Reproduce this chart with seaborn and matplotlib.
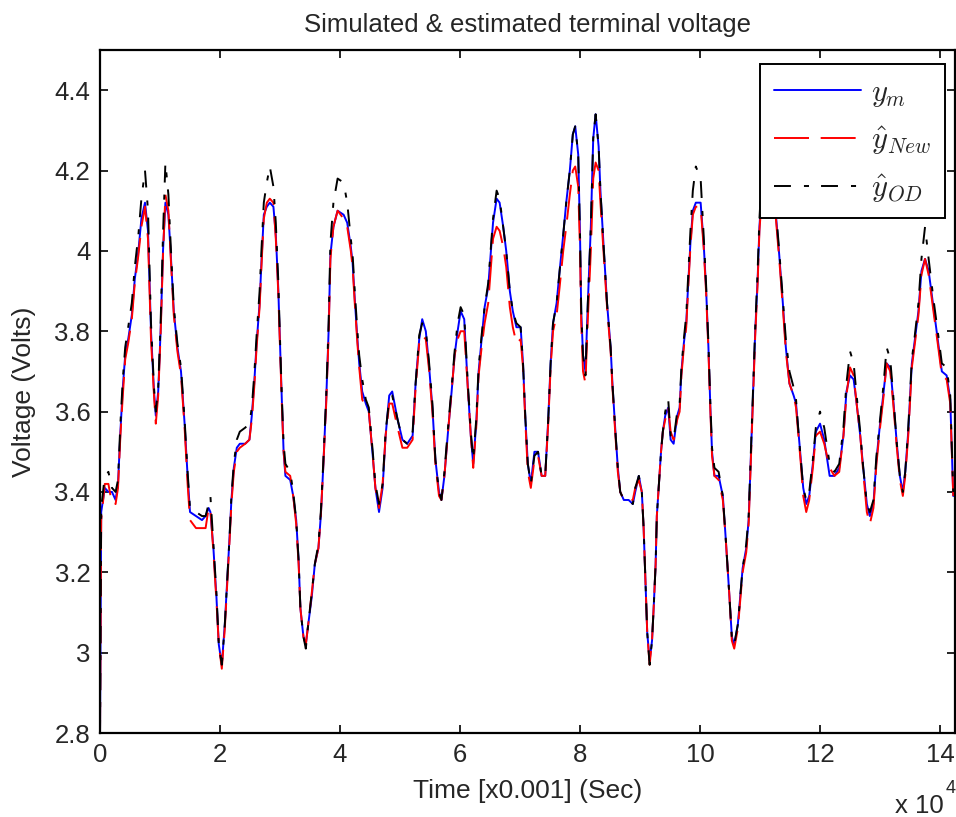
import matplotlib
matplotlib.use("Agg")
import matplotlib.pyplot as plt
import seaborn as sns
import pandas as pd

# time axis in units of 1e4 samples, and the three voltage traces
t = [0.00, 0.02, 0.08, 0.14, 0.20, 0.26, 0.30, 0.34, 0.38, 0.42, 0.47, 0.53, 0.58, 0.64, 0.69, 0.75,
     0.80, 0.85, 0.90, 0.93, 0.97, 1.01, 1.05, 1.09, 1.14, 1.18, 1.23, 1.29, 1.35, 1.41, 1.46, 1.50,
     1.60, 1.70, 1.76, 1.81, 1.84, 1.89, 1.94, 1.98, 2.03, 2.08, 2.12, 2.16, 2.19, 2.23, 2.28, 2.33,
     2.42, 2.49, 2.53, 2.57, 2.61, 2.66, 2.69, 2.73, 2.78, 2.83, 2.89, 2.93, 2.97, 3.00, 3.03, 3.06,
     3.09, 3.17, 3.22, 3.27, 3.31, 3.34, 3.39, 3.43, 3.47, 3.53, 3.58, 3.64, 3.68, 3.72, 3.77, 3.81,
     3.84, 3.89, 3.96, 4.06, 4.12, 4.18, 4.21, 4.25, 4.29, 4.32, 4.37, 4.43, 4.48, 4.54, 4.59, 4.65,
     4.71, 4.76, 4.82, 4.87, 4.96, 5.04, 5.12, 5.21, 5.26, 5.32, 5.37, 5.43, 5.48, 5.54, 5.59, 5.65,
     5.69, 5.74, 5.80, 5.86, 5.91, 5.96, 6.01, 6.07, 6.13, 6.18, 6.22, 6.27, 6.31, 6.36, 6.41, 6.47,
     6.51, 6.55, 6.61, 6.66, 6.72, 6.77, 6.83, 6.88, 6.94, 7.01, 7.05, 7.09, 7.13, 7.18, 7.24, 7.30,
     7.36, 7.42, 7.47, 7.51, 7.55, 7.61, 7.66, 7.72, 7.77, 7.83, 7.88, 7.92, 7.97, 8.00, 8.02, 8.05,
     8.09, 8.13, 8.18, 8.22, 8.26, 8.31, 8.34, 8.39, 8.45, 8.51, 8.54, 8.59, 8.63, 8.67, 8.73, 8.81,
     8.88, 8.92, 8.98, 9.03, 9.06, 9.09, 9.12, 9.16, 9.20, 9.23, 9.26, 9.28, 9.31, 9.35, 9.38, 9.42,
     9.47, 9.51, 9.56, 9.62, 9.66, 9.69, 9.73, 9.77, 9.80, 9.84, 9.88, 9.93, 10.01, 10.06, 10.10, 10.14,
     10.17, 10.20, 10.24, 10.31, 10.38, 10.43, 10.49, 10.53, 10.57, 10.63, 10.67, 10.71, 10.77, 10.81, 10.84, 10.88,
     10.92, 10.96, 10.99, 11.05, 11.15, 11.22, 11.27, 11.32, 11.38, 11.43, 11.49, 11.56, 11.60, 11.64, 11.68, 11.72,
     11.77, 11.82, 11.88, 11.93, 12.00, 12.07, 12.16, 12.24, 12.32, 12.39, 12.44, 12.50, 12.56, 12.61, 12.67, 12.72,
     12.78, 12.83, 12.89, 12.94, 13.00, 13.06, 13.11, 13.17, 13.22, 13.28, 13.33, 13.38, 13.42, 13.47, 13.53, 13.58,
     13.64, 13.69, 13.75, 13.81, 13.89, 13.97, 14.03, 14.11, 14.17, 14.22]

y_m = [2.79, 3.35, 3.41, 3.40, 3.40, 3.38, 3.42, 3.55, 3.66, 3.74, 3.78, 3.84, 3.93, 4.00, 4.08, 4.12,
       4.05, 3.80, 3.65, 3.59, 3.65, 3.80, 4.00, 4.12, 4.09, 3.99, 3.85, 3.76, 3.70, 3.57, 3.44, 3.35,
       3.34, 3.33, 3.34, 3.36, 3.35, 3.26, 3.14, 3.02, 2.97, 3.07, 3.18, 3.29, 3.38, 3.46, 3.51, 3.52,
       3.52, 3.53, 3.59, 3.67, 3.77, 3.87, 3.97, 4.09, 4.11, 4.12, 4.11, 4.04, 3.91, 3.77, 3.63, 3.50,
       3.44, 3.43, 3.39, 3.33, 3.23, 3.11, 3.04, 3.02, 3.07, 3.14, 3.22, 3.26, 3.34, 3.46, 3.63, 3.80,
       3.99, 4.06, 4.10, 4.09, 4.07, 4.01, 3.97, 3.87, 3.78, 3.72, 3.65, 3.62, 3.60, 3.50, 3.41, 3.35,
       3.41, 3.54, 3.64, 3.65, 3.58, 3.53, 3.52, 3.54, 3.67, 3.78, 3.83, 3.80, 3.72, 3.61, 3.48, 3.40,
       3.38, 3.44, 3.55, 3.65, 3.74, 3.80, 3.85, 3.83, 3.66, 3.54, 3.47, 3.57, 3.70, 3.78, 3.86, 3.91,
       3.99, 4.07, 4.13, 4.12, 4.06, 4.00, 3.90, 3.85, 3.81, 3.81, 3.72, 3.58, 3.47, 3.42, 3.50, 3.50,
       3.44, 3.44, 3.58, 3.72, 3.82, 3.87, 3.95, 4.04, 4.12, 4.20, 4.29, 4.31, 4.24, 4.04, 3.85, 3.74,
       3.70, 3.87, 4.06, 4.28, 4.34, 4.26, 4.15, 4.02, 3.87, 3.76, 3.67, 3.55, 3.46, 3.40, 3.38, 3.38,
       3.37, 3.40, 3.44, 3.40, 3.31, 3.18, 3.05, 2.98, 3.03, 3.12, 3.22, 3.34, 3.41, 3.50, 3.55, 3.59,
       3.61, 3.53, 3.52, 3.59, 3.61, 3.70, 3.77, 3.82, 3.91, 4.02, 4.10, 4.12, 4.12, 4.02, 3.91, 3.76,
       3.62, 3.50, 3.44, 3.44, 3.39, 3.28, 3.14, 3.04, 3.02, 3.07, 3.14, 3.21, 3.26, 3.33, 3.46, 3.64,
       3.80, 3.93, 4.06, 4.20, 4.25, 4.18, 4.08, 3.99, 3.87, 3.76, 3.67, 3.64, 3.62, 3.55, 3.48, 3.41,
       3.37, 3.39, 3.47, 3.55, 3.57, 3.53, 3.44, 3.44, 3.46, 3.54, 3.65, 3.69, 3.68, 3.62, 3.54, 3.46,
       3.37, 3.34, 3.37, 3.48, 3.57, 3.65, 3.72, 3.71, 3.63, 3.52, 3.44, 3.40, 3.45, 3.55, 3.72, 3.78,
       3.85, 3.95, 3.98, 3.95, 3.86, 3.77, 3.70, 3.69, 3.63, 3.39]

y_new = [2.79, 3.33, 3.42, 3.42, 3.37, 3.37, 3.41, 3.54, 3.64, 3.73, 3.77, 3.83, 3.92, 3.99, 4.06, 4.11,
         4.03, 3.78, 3.64, 3.57, 3.64, 3.79, 3.99, 4.14, 4.10, 3.98, 3.84, 3.75, 3.69, 3.56, 3.42, 3.33,
         3.31, 3.31, 3.31, 3.36, 3.36, 3.25, 3.13, 3.02, 2.96, 3.06, 3.17, 3.28, 3.37, 3.45, 3.50, 3.51,
         3.52, 3.53, 3.58, 3.66, 3.76, 3.86, 3.96, 4.08, 4.12, 4.13, 4.12, 4.03, 3.90, 3.76, 3.62, 3.50,
         3.45, 3.44, 3.39, 3.32, 3.22, 3.11, 3.04, 3.02, 3.07, 3.15, 3.22, 3.26, 3.34, 3.46, 3.62, 3.79,
         3.98, 4.06, 4.10, 4.08, 4.06, 4.00, 3.96, 3.86, 3.77, 3.71, 3.63, 3.61, 3.60, 3.50, 3.41, 3.36,
         3.42, 3.54, 3.62, 3.62, 3.56, 3.51, 3.51, 3.53, 3.66, 3.77, 3.79, 3.78, 3.71, 3.60, 3.47, 3.39,
         3.38, 3.44, 3.55, 3.65, 3.74, 3.78, 3.80, 3.80, 3.66, 3.54, 3.46, 3.56, 3.69, 3.76, 3.82, 3.87,
         3.95, 4.03, 4.06, 4.05, 4.01, 3.96, 3.86, 3.81, 3.77, 3.78, 3.71, 3.57, 3.45, 3.41, 3.48, 3.49,
         3.44, 3.44, 3.57, 3.71, 3.80, 3.84, 3.91, 4.00, 4.06, 4.14, 4.20, 4.21, 4.16, 4.00, 3.82, 3.70,
         3.67, 3.83, 4.00, 4.18, 4.22, 4.20, 4.12, 4.00, 3.86, 3.75, 3.66, 3.54, 3.45, 3.40, 3.38, 3.38,
         3.38, 3.41, 3.43, 3.40, 3.31, 3.18, 3.05, 2.97, 3.03, 3.12, 3.22, 3.34, 3.41, 3.50, 3.55, 3.58,
         3.61, 3.55, 3.53, 3.58, 3.60, 3.69, 3.76, 3.81, 3.90, 4.01, 4.09, 4.11, 4.11, 4.01, 3.90, 3.75,
         3.61, 3.49, 3.44, 3.43, 3.38, 3.28, 3.14, 3.03, 3.01, 3.06, 3.13, 3.20, 3.25, 3.32, 3.45, 3.63,
         3.79, 3.92, 4.05, 4.18, 4.22, 4.16, 4.07, 3.98, 3.86, 3.75, 3.67, 3.64, 3.61, 3.54, 3.47, 3.39,
         3.35, 3.38, 3.46, 3.54, 3.55, 3.52, 3.46, 3.44, 3.45, 3.54, 3.64, 3.71, 3.69, 3.62, 3.54, 3.45,
         3.35, 3.32, 3.36, 3.47, 3.56, 3.64, 3.72, 3.70, 3.62, 3.51, 3.43, 3.39, 3.44, 3.54, 3.71, 3.77,
         3.84, 3.94, 3.98, 3.94, 3.85, 3.76, 3.69, 3.68, 3.62, 3.39]

y_od = [2.79, 3.36, 3.44, 3.45, 3.41, 3.40, 3.43, 3.57, 3.68, 3.76, 3.81, 3.87, 3.96, 4.04, 4.13, 4.20,
        4.10, 3.82, 3.66, 3.60, 3.66, 3.82, 4.04, 4.22, 4.14, 4.01, 3.86, 3.77, 3.71, 3.58, 3.45, 3.36,
        3.35, 3.34, 3.34, 3.37, 3.39, 3.27, 3.15, 3.02, 2.97, 3.07, 3.18, 3.29, 3.39, 3.47, 3.53, 3.55,
        3.56, 3.57, 3.61, 3.69, 3.79, 3.90, 4.00, 4.12, 4.17, 4.21, 4.16, 4.07, 3.93, 3.78, 3.64, 3.52,
        3.47, 3.45, 3.40, 3.33, 3.23, 3.11, 3.04, 3.01, 3.07, 3.15, 3.22, 3.27, 3.35, 3.47, 3.64, 3.82,
        4.02, 4.12, 4.18, 4.17, 4.12, 4.03, 3.99, 3.89, 3.80, 3.74, 3.68, 3.63, 3.61, 3.51, 3.42, 3.37,
        3.42, 3.55, 3.63, 3.64, 3.58, 3.53, 3.52, 3.55, 3.67, 3.79, 3.82, 3.80, 3.73, 3.62, 3.48, 3.40,
        3.38, 3.45, 3.56, 3.66, 3.75, 3.82, 3.86, 3.84, 3.67, 3.55, 3.48, 3.58, 3.71, 3.79, 3.86, 3.92,
        4.00, 4.08, 4.15, 4.13, 4.06, 4.00, 3.90, 3.85, 3.82, 3.81, 3.72, 3.58, 3.47, 3.42, 3.49, 3.50,
        3.44, 3.44, 3.58, 3.72, 3.82, 3.87, 3.95, 4.04, 4.12, 4.20, 4.29, 4.31, 4.24, 4.04, 3.85, 3.74,
        3.69, 3.87, 4.06, 4.28, 4.34, 4.26, 4.15, 4.02, 3.87, 3.76, 3.67, 3.55, 3.46, 3.40, 3.38, 3.38,
        3.37, 3.41, 3.44, 3.40, 3.31, 3.18, 3.05, 2.97, 3.03, 3.12, 3.22, 3.34, 3.41, 3.50, 3.55, 3.60,
        3.63, 3.54, 3.53, 3.60, 3.62, 3.71, 3.78, 3.84, 3.93, 4.05, 4.15, 4.21, 4.18, 4.04, 3.92, 3.77,
        3.63, 3.51, 3.46, 3.45, 3.39, 3.28, 3.14, 3.04, 3.02, 3.07, 3.14, 3.21, 3.27, 3.34, 3.47, 3.65,
        3.81, 3.95, 4.08, 4.24, 4.30, 4.20, 4.09, 4.00, 3.88, 3.78, 3.70, 3.66, 3.63, 3.55, 3.48, 3.41,
        3.38, 3.40, 3.48, 3.56, 3.60, 3.56, 3.47, 3.45, 3.47, 3.56, 3.67, 3.75, 3.72, 3.64, 3.55, 3.46,
        3.37, 3.35, 3.38, 3.49, 3.58, 3.67, 3.76, 3.73, 3.64, 3.52, 3.44, 3.40, 3.45, 3.56, 3.73, 3.79,
        3.87, 3.98, 4.06, 3.98, 3.88, 3.79, 3.72, 3.71, 3.64, 3.40]

series_labels = [r"$y_m$", r"$\hat{y}_{New}$", r"$\hat{y}_{OD}$"]
x_ticks = [0, 2, 4, 6, 8, 10, 12, 14]
y_ticks = [2.8, 3.0, 3.2, 3.4, 3.6, 3.8, 4.0, 4.2, 4.4]
y_tick_labels = ["2.8", "3", "3.2", "3.4", "3.6", "3.8", "4", "4.2", "4.4"]

sns.set_style("ticks")
plt.rcParams["font.family"] = ["Liberation Sans", "DejaVu Sans"]
plt.rcParams["mathtext.fontset"] = "cm"

df = pd.DataFrame({"t": t, "ym": y_m, "ynew": y_new, "yod": y_od})

fig = plt.figure(figsize=(9.56, 8.17), dpi=100)
ax = fig.add_axes([0.1046, 0.1028, 0.8944, 0.836])

lw = 1.4
sns.lineplot(data=df, x="t", y="ym", ax=ax, color="#0000ff", lw=lw, label=series_labels[0])
sns.lineplot(data=df, x="t", y="ynew", ax=ax, color="#ff0000", lw=lw,
             linestyle=(0, (18, 6)), label=series_labels[1])
sns.lineplot(data=df, x="t", y="yod", ax=ax, color="black", lw=lw,
             linestyle=(0, (8.7, 6.7, 2.6, 6.2)), label=series_labels[2])

ax.set_xlim(0, 14.25)
ax.set_ylim(2.8, 4.5)
ax.set_xticks(x_ticks)
ax.set_xticklabels([str(v) for v in x_ticks])
ax.set_yticks(y_ticks)
ax.set_yticklabels(y_tick_labels)

txt = "#262626"
ax.tick_params(direction="in", length=6, width=1.2, top=True, right=True,
               labelsize=18.5, colors="black", labelcolor=txt, pad=7)
for s in ax.spines.values():
    s.set_visible(True)
    s.set_linewidth(1.6)
    s.set_color("black")

ax.set_title("Simulated & estimated terminal voltage", fontsize=18.5, color=txt, pad=13)
ax.set_xlabel("Time [x0.001] (Sec)", fontsize=19, color=txt, labelpad=9)
ax.set_ylabel("Voltage (Volts)", fontsize=19, color=txt, labelpad=13)

fig.text(0.936, 0.005, "x 10", fontsize=18.5, color=txt)
fig.text(0.989, 0.029, "4", fontsize=13, color=txt)

leg = ax.legend(loc="upper right", bbox_to_anchor=(1 - 10 / 855, 1 - 14 / 683),
                fontsize=22, frameon=True, fancybox=False, framealpha=1,
                edgecolor="black", handlelength=2.85, handletextpad=0.33,
                labelspacing=0.5, borderpad=0.45, borderaxespad=0)
leg.get_frame().set_linewidth(1.4)
leg.set_zorder(5)

fig.savefig("out.png", dpi=100)
